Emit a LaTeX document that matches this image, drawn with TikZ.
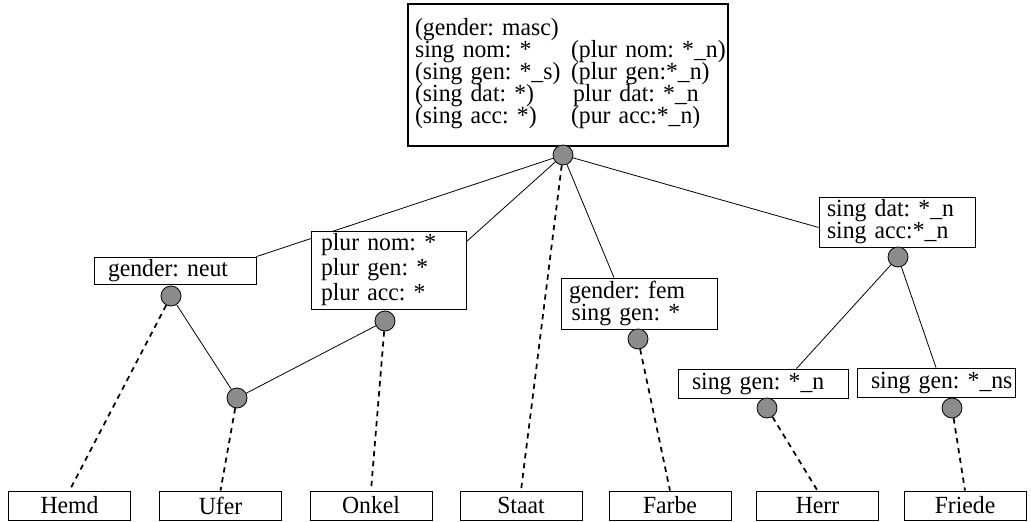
\documentclass[tikz,border=0pt]{standalone}
\usepackage{fontspec}
\setmainfont{Liberation Serif}[FakeStretch=0.96,WordSpace=0.8]
\usetikzlibrary{backgrounds}
\newcommand{\mascol}[1]{\makebox[117pt][l]{#1}}
\newcommand{\rowskip}[1]{\fontsize{18.5}{#1}\selectfont\lineskiplimit=-20pt\relax}
\tikzset{
	box/.style={draw, line width=0.6pt, fill=white, align=left, inner ysep=0pt, font={\fontsize{18.5}{16.5}\selectfont}},
	wordbox/.style={draw, line width=0.6pt, fill=white, minimum width=91.5pt, minimum height=21.75pt, inner sep=0pt, font={\fontsize{18.5}{16.5}\selectfont}},
	dot/.style={circle, draw, line width=0.6pt, fill={rgb,255:red,140;green,140;blue,140}, minimum size=15pt, inner sep=0pt},
	link/.style={line width=0.6pt},
	dashlink/.style={line width=1.3pt, dash pattern=on 4pt off 3.5pt},
}
\begin{document}
\frenchspacing
\begin{tikzpicture}[x=0.75pt,y=0.75pt,yscale=-1,xscale=1]
	\useasboundingbox (0,0) rectangle (1031,521);
	\node[box, anchor=north west, line width=1.6pt, inner xsep=5.25pt, text width=229.5pt, minimum height=106.5pt] (masc) at (407,3) {\rowskip{16.4pt}\mbox{\mascol{(gender: masc)}}\\
		\mbox{\mascol{sing nom: *}(plur nom: *\_n)}\\
		\mbox{\mascol{(sing gen: *\_s)}(plur gen:*\_n)}\\
		\mbox{\mascol{(sing dat: *)}\hspace{1.5pt}plur dat: *\_n}\\
		\mbox{\mascol{(sing acc: *)}(pur acc:*\_n)}\rule[-6pt]{0pt}{6pt}\par};
	\node[box, inner xsep=10.5pt, text width=100.5pt, minimum height=20.25pt] (neut) at (175,270.5) {\mbox{gender: neut}};
	\node[box, inner xsep=7.5pt, text width=101.25pt, minimum height=58.5pt] (plur) at (388.5,270) {\rowskip{18.75pt}\mbox{plur nom: *}\\\mbox{plur gen: *}\\\mbox{plur acc: *}\par};
	\node[box, inner xsep=6pt, text width=105pt, minimum height=38.25pt] (fem) at (639,303.5) {\rowskip{16pt}\mbox{gender: fem}\\\mbox{\hspace{2pt}sing gen: *}\par};
	\node[box, inner xsep=6pt, text width=105pt, minimum height=37.5pt] (dat) at (897,222) {\rowskip{16.5pt}\mbox{sing dat: *\_n}\\\mbox{sing acc:*\_n}\par};
	\node[box, inner xsep=10.5pt, text width=106.5pt, minimum height=21.75pt] (genN) at (763,383.5) {\mbox{sing gen: *\_n}};
	\node[box, inner xsep=10.5pt, text width=97.5pt, minimum height=21.75pt] (genNs) at (936,382.5) {\mbox{sing gen: *\_ns}};
	\node[dot] (c0) at (563,155) {};
	\node[dot] (cNeut) at (171,296) {};
	\node[dot] (cPlur) at (385,321) {};
	\node[dot] (cMid) at (237,398) {};
	\node[dot] (cFem) at (638,339) {};
	\node[dot] (cDat) at (898,257) {};
	\node[dot] (cN) at (767,408) {};
	\node[dot] (cNs) at (952,408) {};
	\node[wordbox] (hemd) at (69.5,505.5) {Hemd};
	\node[wordbox] (ufer) at (220.5,505.5) {Ufer};
	\node[wordbox] (onkel) at (371,505.5) {Onkel};
	\node[wordbox] (staat) at (521,505.5) {Staat};
	\node[wordbox] (farbe) at (670,505.5) {Farbe};
	\node[wordbox] (herr) at (817.5,505.5) {Herr};
	\node[wordbox] (friede) at (965,505.5) {Friede};
	\begin{pgfonlayer}{background}
		\draw[link] (c0) -- (neut.north east);
		\draw[link] (c0) -- (plur.20);
		\draw[link] (c0) -- (fem.134);
		\draw[link] (c0) -- (dat.184);
		\draw[link] (cNeut) -- (cMid);
		\draw[link] (cMid) -- (cPlur);
		\draw[link] (cDat) -- (genN.24);
		\draw[link] (cDat) -- (genNs.north);
		\draw[dashlink] (cNeut) -- (hemd.north);
		\draw[dashlink] (cMid) -- (ufer.north);
		\draw[dashlink] (cPlur) -- (onkel.north);
		\draw[dashlink] (c0) -- (staat.north);
		\draw[dashlink] (cFem) -- (farbe.north);
		\draw[dashlink] (cN) -- (herr.north);
		\draw[dashlink] (cNs) -- (friede.north);
	\end{pgfonlayer}
\end{tikzpicture}
\end{document}
